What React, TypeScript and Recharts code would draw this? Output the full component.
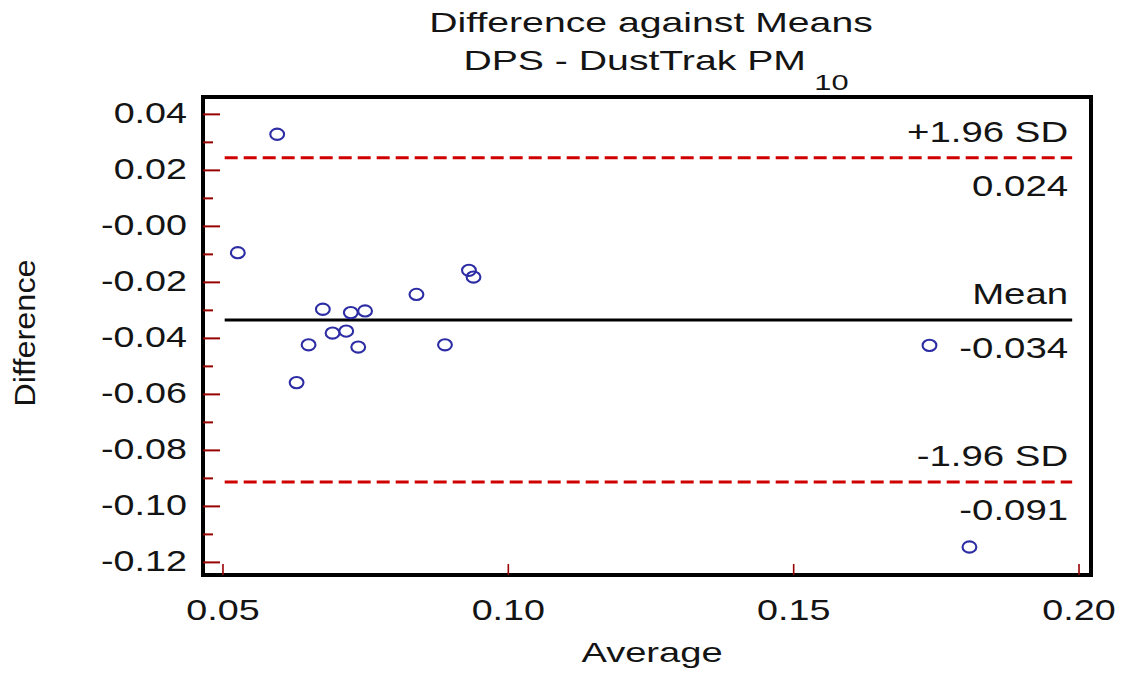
import {
  ScatterChart, Scatter, XAxis, YAxis, ReferenceLine, ReferenceArea,
} from 'recharts'

// Bland-Altman style plot: difference against means, DPS vs DustTrak PM10

const AVG = [0.0595, 0.0526, 0.0931, 0.0939, 0.0839, 0.0675, 0.0724, 0.0749,
  0.0692, 0.0716, 0.0650, 0.0737, 0.0889, 0.0629, 0.1738, 0.1808]
const DIFF = [0.0329, -0.0094, -0.0157, -0.0181, -0.0243, -0.0296, -0.0308, -0.0302,
  -0.0381, -0.0374, -0.0423, -0.0431, -0.0423, -0.0558, -0.0425, -0.1145]

const X_DOMAIN = [0.0465, 0.2021]
const Y_DOMAIN = [-0.1245, 0.0462]
const X_TICKS = [0.05, 0.1, 0.15, 0.2]
const X_TICK_LABELS = ['0.05', '0.10', '0.15', '0.20']
const Y_TICKS = [0.04, 0.03, 0.02, 0.01, 0, -0.01, -0.02, -0.03, -0.04, -0.05,
  -0.06, -0.07, -0.08, -0.09, -0.1, -0.11, -0.12]
const Y_TICK_LABELS = ['0.04', '', '0.02', '', '-0.00', '', '-0.02', '', '-0.04', '',
  '-0.06', '', '-0.08', '', '-0.10', '', '-0.12']

// +1.96 SD, mean, -1.96 SD
const LINE_VALUES = [0.0245, -0.0334, -0.0913]
const LINE_TOP = ['+1.96 SD', 'Mean', '-1.96 SD']
const LINE_BOTTOM = ['0.024', '-0.034', '-0.091']
const LINE_DASHED = [true, false, true]
const LINE_X = [0.0503, 0.1988]

const FONT = '"Liberation Sans", Arial, sans-serif'
const INK = '#141414'
const TICK_RED = '#990000'
const DOT = '#2c2ca4'

const points = AVG.map((x, i) => ({ x, y: DIFF[i] }))

function XTick(props: any) {
  const { x, y, payload, index } = props
  return (
    <g>
      <line x1={x} x2={x} y1={y} y2={y - 11} stroke={TICK_RED} strokeWidth={1.6} />
      <text transform={`translate(${x} ${y + 45}) scale(1.3 1)`} textAnchor="middle"
        fontFamily={FONT} fontSize={29} fill={INK}>
        {X_TICK_LABELS[index] ?? payload.value}
      </text>
    </g>
  )
}

function YTick(props: any) {
  const { x, y, index } = props
  const label = Y_TICK_LABELS[index]
  const major = label !== ''
  return (
    <g>
      <line x1={x} x2={x + (major ? 17 : 10)} y1={y} y2={y} stroke={TICK_RED} strokeWidth={2} />
      {major && (
        <text transform={`translate(${x - 16} ${y + 9}) scale(1.3 1)`} textAnchor="end"
          fontFamily={FONT} fontSize={29} fill={INK}>
          {label}
        </text>
      )}
    </g>
  )
}

function lineLabel(i: number) {
  return (props: any) => {
    const vb = props.viewBox || {}
    const right = (vb.x ?? 0) + (vb.width ?? 0) - 4
    const y = vb.y ?? 0
    return (
      <g>
        <text transform={`translate(${right} ${y - 16}) scale(1.28 1)`} textAnchor="end"
          fontFamily={FONT} fontSize={30} fill={INK}>{LINE_TOP[i]}</text>
        <text transform={`translate(${right} ${y + 38}) scale(1.28 1)`} textAnchor="end"
          fontFamily={FONT} fontSize={30} fill={INK}>{LINE_BOTTOM[i]}</text>
      </g>
    )
  }
}

export default function App() {
  return (
    <div style={{ position: 'absolute', left: 0, top: 0, width: 1122, height: 673, background: '#fff' }}>
      <ScatterChart width={1122} height={673} margin={{ top: 97, right: 31, bottom: 0, left: 0 }}>
        <XAxis type="number" dataKey="x" domain={X_DOMAIN} ticks={X_TICKS} allowDataOverflow
          height={98} axisLine={false} tickLine={false} tickSize={0} tickMargin={0}
          interval={0} tick={<XTick />}
          label={(p: any) => {
            const vb = p.viewBox
            return (
              <text transform={`translate(${vb.x + vb.width / 2 + 5} ${vb.y + 87}) scale(1.36 1)`}
                textAnchor="middle" fontFamily={FONT} fontSize={28} fill={INK}>Average</text>
            )
          }} />
        <YAxis type="number" dataKey="y" domain={Y_DOMAIN} ticks={Y_TICKS} allowDataOverflow
          width={203} axisLine={false} tickLine={false} tickSize={0} tickMargin={0}
          interval={0} tick={<YTick />}
          label={(p: any) => {
            const vb = p.viewBox
            return (
              <text transform={`translate(35 ${vb.y + vb.height / 2 - 3}) rotate(-90) scale(1.12 1)`}
                textAnchor="middle" fontFamily={FONT} fontSize={29} fill={INK}>Difference</text>
            )
          }} />
        {LINE_VALUES.map((v, i) => (
          <ReferenceLine key={i}
            segment={[{ x: LINE_X[0], y: v }, { x: LINE_X[1], y: v }]}
            stroke={LINE_DASHED[i] ? '#d00000' : '#000'} strokeWidth={3}
            strokeDasharray={LINE_DASHED[i] ? '13 6' : undefined}
            ifOverflow="visible" label={lineLabel(i)} />
        ))}
        <Scatter data={points} isAnimationActive={false}
          shape={(p: any) => (
            <ellipse cx={p.cx} cy={p.cy} rx={6.9} ry={5.6} fill="none" stroke={DOT} strokeWidth={2.1} />
          )} />
        <ReferenceArea x1={X_DOMAIN[0]} x2={X_DOMAIN[1]} y1={Y_DOMAIN[0]} y2={Y_DOMAIN[1]}
          fill="none" fillOpacity={0} stroke="#000" strokeWidth={4} ifOverflow="visible" />
      </ScatterChart>
      <svg width={1122} height={100} style={{ position: 'absolute', left: 0, top: 0, pointerEvents: 'none' }}>
        <text transform="translate(651 32) scale(1.4 1)" textAnchor="middle" fontFamily={FONT} fontSize={28} fill={INK}>
          Difference against Means
        </text>
        <text transform="translate(656 70) scale(1.4 1)" textAnchor="middle" fontFamily={FONT} fontSize={28} fill={INK}>
          DPS - DustTrak PM<tspan dx={6} dy={20} fontSize={22}>10</tspan>
        </text>
      </svg>
    </div>
  )
}
